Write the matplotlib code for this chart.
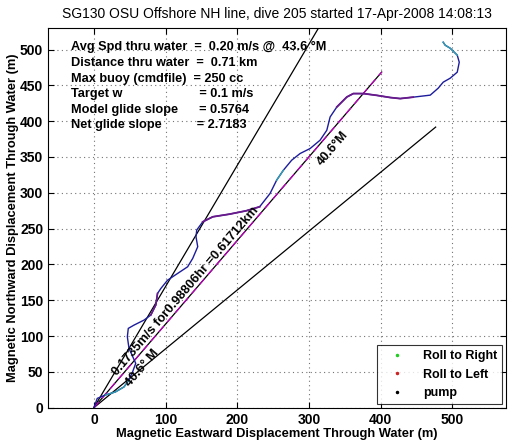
import numpy as np
import matplotlib.pyplot as plt

plt.rcParams['font.family'] = ['Liberation Sans', 'DejaVu Sans']

# glider track through water (m)
east = [0, 4.7, 16.0, 30.0, 42.0, 49.0, 54.0, 58.4, 49.0, 46.7, 48.0, 56.0,
        70.0, 79.4, 86.4, 88.8, 93.5, 102.8, 116.8, 130.8, 137.9, 144.9, 142.5,
        143.5, 151.9, 165.9, 189.3, 212.6, 231.3, 245.8, 255.0, 264.4, 276.0,
        287.7, 301.7, 315.6, 325.0, 329.6, 339.0, 352.9, 362.0, 376.0, 394.8,
        413.4, 427.4, 445.5, 469.3, 480.4, 487.4, 497.2, 507.0, 509.8, 507.0,
        497.2, 490.2, 487.4]
north = [0, 13.0, 17.7, 22.0, 29.0, 38.6, 50.0, 61.9, 82.8, 99.0, 110.7, 115.3,
         122.3, 129.3, 143.3, 159.5, 166.5, 178.0, 187.4, 196.7, 208.4, 224.7, 238.6,
         248.0, 259.5, 266.5, 270.2, 274.9, 280.5, 299.0, 317.6, 331.5, 345.5,
         354.8, 361.8, 373.4, 387.3, 405.8, 419.8, 433.7, 438.5, 438.5, 436.0,
         433.0, 431.5, 433.5, 436.3, 446.0, 454.4, 460.0, 468.4, 482.3, 492.1,
         501.8, 506.0, 510.2]

heading = 40.6      # deg magnetic
spread = 10.0       # deg either side
dist_km = 0.61712
speed = 0.1735
hours = 0.98806

info_lines = [
    'Avg Spd thru water  =  0.20 m/s @  43.6 °M',
    'Distance thru water  =  0.71 km',
    'Max buoy (cmdfile)  = 250 cc',
    'Target w                      = 0.1 m/s',
    'Model glide slope      = 0.5764',
    'Net glide slope          = 2.7183',
]

legend_labels = ['Roll to Right', 'Roll to Left', 'pump']

fig = plt.figure(figsize=(5.14, 4.42), dpi=100)
ax = fig.add_axes([0.0934, 0.0776, 0.891, 0.859])

east = np.array(east)
north = np.array(north)
L = dist_km * 1000

# heading lines
for h in [heading - spread, heading + spread]:
    r = np.radians(h)
    ax.plot([0, L * np.sin(r)], [0, L * np.cos(r)], color='k', lw=0.9)
r = np.radians(heading)
ax.plot([0, L * np.sin(r)], [0, L * np.cos(r)], color='k', lw=0.9)
ax.plot([0, L * np.sin(r)], [0, L * np.cos(r)], color='m', lw=0.9, ls=(0, (6, 4)))

# track
ax.plot(east, north, color='#1c1c9c', lw=1.0)
ax.plot(east[24:29], north[24:29], color='#6a1a8a', lw=1.3)
ax.plot(east[38:46], north[38:46], color='#6a1a8a', lw=1.3)
ax.plot(east[13:16], north[13:16], color='#6a1a8a', lw=1.2)
ax.plot(east[2:6], north[2:6], color='#30a0b0', lw=1.0)
ax.plot(east[30:32], north[30:32], color='#30a0b0', lw=1.0)
ax.plot(east[52:], north[52:], color='#30a0b0', lw=1.0)

# legend entries
ax.plot([], [], '.', color='#22cc22', ms=3, label=legend_labels[0])
ax.plot([], [], '.', color='#cc2222', ms=3, label=legend_labels[1])
ax.plot([], [], '.', color='k', ms=3, label=legend_labels[2])

rot = 90 - heading
ax.text(128.5, 162, f'{speed}m/s for{hours}hr ={dist_km}km', rotation=rot,
        rotation_mode='anchor', ha='center', va='center', fontsize=9.3,
        fontweight='bold')
ax.text(334, 362, f'{heading}°M', rotation=rot, rotation_mode='anchor',
        ha='center', va='center', fontsize=9.3, fontweight='bold')
ax.text(67, 55, f'{heading}° M', rotation=rot, rotation_mode='anchor',
        ha='center', va='center', fontsize=9.3, fontweight='bold')

for i, s in enumerate(info_lines):
    ax.text(-32, 503 - i * 21.8, s, ha='left', va='center', fontsize=9.2,
            fontweight='bold')

ax.set_xlim(-64, 575)
ax.set_ylim(0, 530)
ax.set_xticks(np.arange(0, 501, 100))
ax.set_yticks(np.arange(0, 501, 50))
ax.grid(True, color='0.45', ls=(0, (1, 3)), lw=0.8)
ax.tick_params(direction='in', top=True, right=True, length=4, labelsize=10)
for lab in ax.get_xticklabels() + ax.get_yticklabels():
    lab.set_fontweight('bold')
ax.set_xlabel('Magnetic Eastward Displacement Through Water (m)', fontsize=9.3,
              fontweight='bold', labelpad=1)
ax.set_ylabel('Magnetic Northward Displacement Through Water (m)', fontsize=9.3,
              fontweight='bold', labelpad=1)
ax.set_title('SG130 OSU Offshore NH line, dive 205 started 17-Apr-2008 14:08:13',
             fontsize=10, pad=7)

leg = ax.legend(loc='lower right', frameon=True, fancybox=False,
                borderaxespad=0.3, handlelength=2.5, prop={'weight': 'bold', 'size': 9})
leg.get_frame().set_edgecolor('k')
leg.get_frame().set_linewidth(0.8)

fig.savefig('out.png', dpi=100)
